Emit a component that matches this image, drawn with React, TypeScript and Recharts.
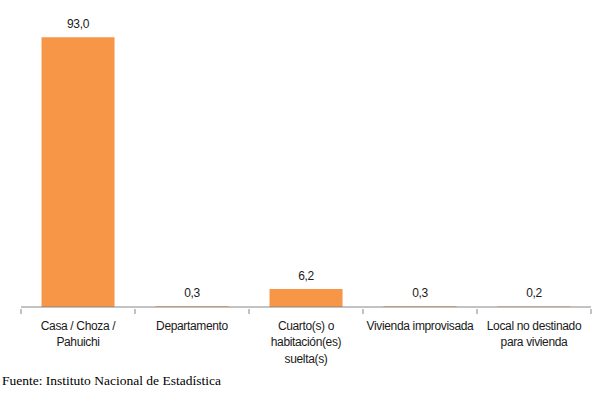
import { BarChart, Bar, XAxis, YAxis, LabelList } from "recharts";

const categories = [
  "Casa / Choza /\nPahuichi",
  "Departamento",
  "Cuarto(s) o\nhabitación(es)\nsuelta(s)",
  "Vivienda improvisada",
  "Local no destinado\npara vivienda",
];
const shares = [93.0, 0.3, 6.2, 0.3, 0.2];

const data = categories.map((name, i) => ({ name, value: shares[i] }));

const fmtPct = (v: number) => v.toFixed(1).replace(".", ",");

const CHART_W = 614;
const CHART_H = 396;
const MARGIN = { top: 17, right: 23, left: 21, bottom: 0 };
const BAND = (CHART_W - MARGIN.left - MARGIN.right) / categories.length;

const AXIS_GREY = "#868686";
const FONT = "'Liberation Sans', Arial, sans-serif";

// category labels + the little boundary ticks Excel puts between categories
function CategoryTick(props: any) {
  const { x, y, payload, index } = props;
  const lines = String(payload.value).split("\n");
  const left = x - BAND / 2;
  const right = x + BAND / 2;
  return (
    <g>
      <line x1={left} x2={left} y1={y} y2={y + 5} stroke={AXIS_GREY} />
      {index === categories.length - 1 && (
        <line x1={right} x2={right} y1={y} y2={y + 5} stroke={AXIS_GREY} />
      )}
      <text
        x={x}
        y={y}
        textAnchor="middle"
        fontFamily={FONT}
        fontSize={12}
        letterSpacing={-0.35}
        fill="#1a1a1a"
      >
        {lines.map((ln, i) => (
          <tspan key={i} x={x} dy={i === 0 ? 20.5 : 16.5}>
            {ln}
          </tspan>
        ))}
      </text>
    </g>
  );
}

export default function App() {
  return (
    <div style={{ position: "absolute", left: 0, top: 0, width: CHART_W, height: CHART_H, background: "#fff" }}>
      <BarChart width={CHART_W} height={CHART_H} data={data} margin={MARGIN} barCategoryGap="18%">
        <XAxis
          dataKey="name"
          interval={0}
          tickLine={false}
          tickSize={0}
          axisLine={{ stroke: AXIS_GREY }}
          tick={<CategoryTick />}
          height={89}
        />
        <YAxis hide domain={[0, 100]} />
        <Bar dataKey="value" fill="#F79646" isAnimationActive={false}>
          <LabelList
            dataKey="value"
            position="top"
            offset={9}
            formatter={(v: any) => fmtPct(Number(v))}
            style={{ fontFamily: FONT, fontSize: 12, letterSpacing: -0.35, fill: "#1a1a1a" }}
          />
        </Bar>
      </BarChart>
      <div
        style={{
          position: "absolute",
          left: 2,
          top: 373,
          fontFamily: "'Liberation Serif', 'Times New Roman', serif",
          fontSize: 13.5,
          color: "#000",
          whiteSpace: "nowrap",
        }}
      >
        Fuente: Instituto Nacional de Estadística
      </div>
    </div>
  );
}
